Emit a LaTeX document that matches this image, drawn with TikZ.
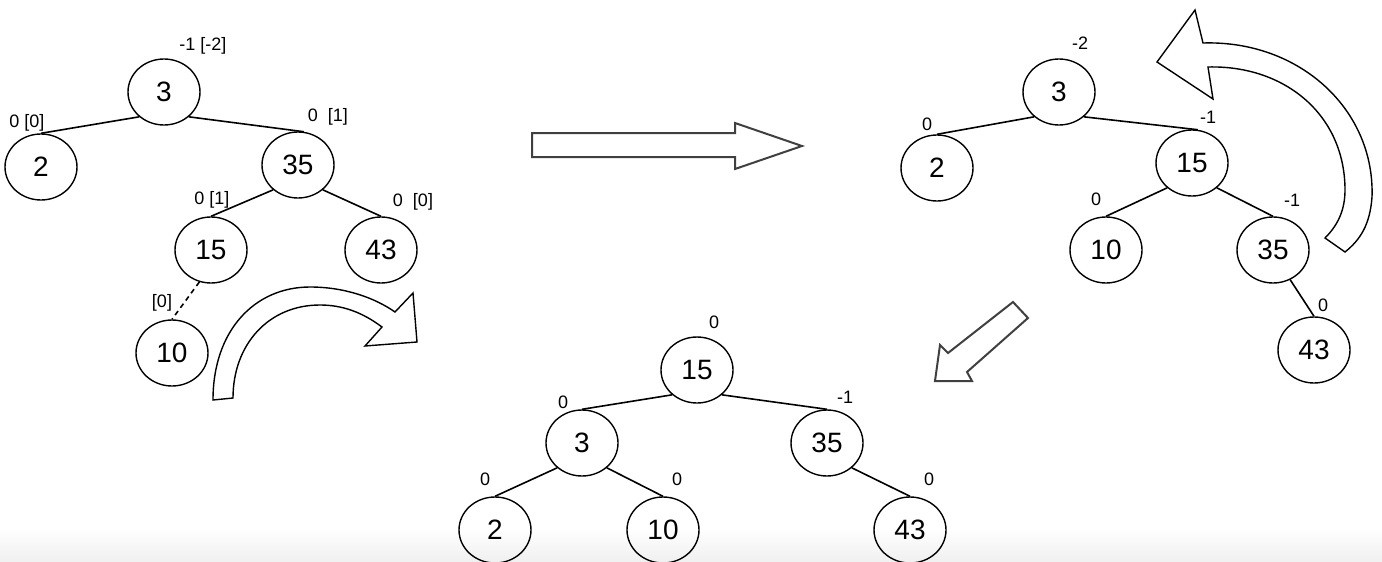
\documentclass[tikz,border=0pt]{standalone}
\usepackage{fontspec}
\setmainfont{Liberation Sans}
\usetikzlibrary{shapes.geometric}
\begin{document}
\begin{tikzpicture}[x=0.5pt,y=-0.5pt,
  tn/.style={ellipse,draw,line width=0.7pt,minimum width=36pt,minimum height=33pt,inner sep=0pt,font=\fontsize{14}{14}\selectfont},
  bf/.style={font=\fontsize{9}{9}\selectfont,inner sep=0pt},
  ed/.style={line width=0.8pt},
  blk/.style={draw,line width=0.7pt,fill=white,line join=miter},
  sarrow/.style={draw=black!75,line width=1pt,fill=white,line join=miter}]
\useasboundingbox (0,0) rectangle (1382,562);
\shade[top color=white,bottom color=black!6] (0,528) rectangle (1382,562);

% ---------- left tree ----------
\node[tn] (a3) at (164,92) {3};
\node[tn] (a2) at (41,167) {2};
\node[tn] (a35) at (298,165) {35};
\node[tn] (a15) at (211,250) {15};
\node[tn] (a43) at (381,250) {43};
\node[tn] (a10) at (172,353) {10};
\draw[ed] (a3.225) -- (a2.north);
\draw[ed] (a3.315) -- (a35.80);
\draw[ed] (a35.225) -- (a15.north);
\draw[ed] (a35.315) -- (a43.north);
\draw[ed,dash pattern=on 2.5pt off 2pt] (a15.250) -- (a10.north);
\node[bf] (la3) at (203,46) {-1 [-2]};
\node[bf] (la2) at (27,123) {0 [0]};
\node[bf] (la35) at (328,117) {0~~[1]};
\node[bf] (la15) at (212,200) {0 [1]};
\node[bf] (la43) at (413,202) {0~~[0]};
\node[bf] (la10) at (162,303) {[0]};

% left curved arrow
\draw[blk] (213,400) .. controls (213,330) and (255,287) .. (310,287)
  .. controls (345,287) and (375,298) .. (395,312)
  -- (413,293) -- (417,342) -- (365,346) -- (382,327)
  .. controls (362,312) and (342,305) .. (320,305)
  .. controls (268,305) and (233,345) .. (233,398) -- cycle;

% straight arrow
\draw[sarrow] (532,133) -- (735,133) -- (735,123) -- (802,146) -- (735,169) -- (735,157) -- (532,157) -- cycle;

% ---------- right tree ----------
\node[tn] (b3) at (1059,92) {3};
\node[tn] (b2) at (937,168) {2};
\node[tn] (b15) at (1192,163) {15};
\node[tn] (b10) at (1106,250) {10};
\node[tn] (b35) at (1273,250) {35};
\node[tn] (b43) at (1314,350) {43};
\draw[ed] (b3.225) -- (b2.north);
\draw[ed] (b3.315) -- (b15.80);
\draw[ed] (b15.225) -- (b10.north);
\draw[ed] (b15.315) -- (b35.north);
\draw[ed] (b35.300) -- (b43.north);
\node[bf] (lb3) at (1080,43) {-2};
\node[bf] (lb2) at (927,124) {0};
\node[bf] (lb15) at (1208,117) {-1};
\node[bf] (lb10) at (1096,199) {0};
\node[bf] (lb35) at (1292,200) {-1};
\node[bf] (lb43) at (1323,305) {0};

% right curved arrow
\draw[blk] (1157,62) -- (1195,10) -- (1203,43)
  .. controls (1300,40) and (1375,110) .. (1372,197)
  .. controls (1370,225) and (1360,240) .. (1345,252)
  -- (1325,238)
  .. controls (1338,225) and (1345,210) .. (1345,190)
  .. controls (1345,115) and (1285,65) .. (1208,67)
  -- (1213,99) -- cycle;

% diagonal arrow
\draw[sarrow] (1013,302) -- (1028,318) -- (967,372) -- (972,381) -- (935,381) -- (940,345) -- (948,353) -- cycle;

% ---------- bottom tree ----------
\node[tn] (c15) at (697,370) {15};
\node[tn] (c3) at (582,443) {3};
\node[tn] (c35) at (827,443) {35};
\node[tn] (c2) at (495,530) {2};
\node[tn] (c10) at (663,530) {10};
\node[tn] (c43) at (910,530) {43};
\draw[ed] (c15.225) -- (c3.north);
\draw[ed] (c15.315) -- (c35.north);
\draw[ed] (c3.225) -- (c2.north);
\draw[ed] (c3.315) -- (c10.north);
\draw[ed] (c35.315) -- (c43.north);
\node[bf] (lc15) at (714,322) {0};
\node[bf] (lc3) at (563,402) {0};
\node[bf] (lc35) at (845,397) {-1};
\node[bf] (lc2) at (485,479) {0};
\node[bf] (lc10) at (677,479) {0};
\node[bf] (lc43) at (929,479) {0};
\end{tikzpicture}
\end{document}
